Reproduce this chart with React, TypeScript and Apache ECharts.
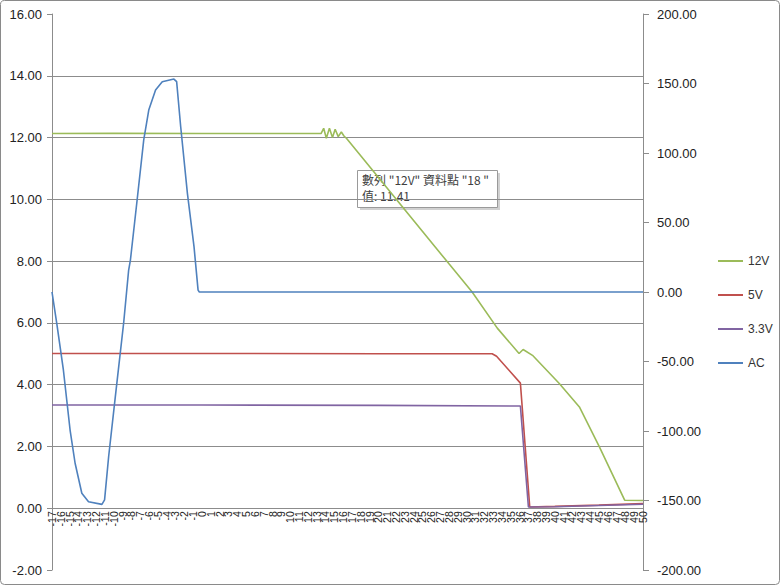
import React, { useEffect, useRef } from "react";
import * as echarts from "echarts";

const seriesNames = ["12V", "5V", "3.3V", "AC"];
const xTicksMin = -17;
const xTicksMax = 50;
// labels next to the first / last tick, drawn on a companion axis so that
// ECharts' min/max overlap check does not drop them
const xEdgeNeighbourLabels = [-16, 49];
const leftTicks = { min: -2, max: 16, interval: 2 };
const rightTicks = { min: -200, max: 200, interval: 50 };

const v12: [number, number][] = [
  [-17, 12.13], [-10, 12.14], [0, 12.13], [10, 12.13], [13.5, 12.13],
  [13.8, 12.3], [14.1, 11.98], [14.45, 12.3], [14.8, 12.0], [15.1, 12.27],
  [15.45, 12.03], [15.8, 12.18], [16.1, 12.05], [16.4, 11.97],
  [18, 11.41], [27.98, 7.92], [30.63, 7.0], [33.48, 5.83], [35.95, 5.01],
  [36.41, 5.14], [37.47, 4.95], [40.51, 4.04], [42.79, 3.28], [45.07, 1.98],
  [47.92, 0.26], [50, 0.25],
];
const v5: [number, number][] = [
  [-17, 5.01], [0, 5.01], [20, 5.0], [32.9, 5.0], [33.4, 4.92], [36.1, 4.05],
  [37.16, 0.04], [40, 0.06], [45, 0.1], [50, 0.15],
];
const v33: [number, number][] = [
  [-17, 3.34], [0, 3.34], [20, 3.33], [36.1, 3.31], [37.01, 0.04],
  [40, 0.05], [45, 0.09], [50, 0.13],
];
const vac: [number, number][] = [
  [-17, 0], [-16.46, -22.5], [-15.71, -56.1], [-14.95, -99.3], [-14.38, -123.2],
  [-13.62, -144.8], [-12.86, -150.9], [-11.34, -152.8], [-11.04, -149.6],
  [-10.58, -118.5], [-9.82, -75.3], [-8.88, -22.5], [-8.31, 15.8], [-8.11, 23],
  [-7.35, 66.2], [-6.6, 109.4], [-6.03, 130.9], [-5.26, 145.3], [-4.5, 151.3],
  [-3.18, 153.2], [-2.87, 151.3], [-2.41, 118.9], [-1.65, 71], [-0.9, 32.6],
  [-0.44, 1.4], [-0.3, 0], [20, 0], [50, 0],
];

const tooltipLine1 = '數列 "12V" 資料點 "18 "';
const tooltipLine2 = "值: 11.41";

const colors = ["#9bbb59", "#c0504d", "#8064a2", "#4f81bd"];
const FONT = "Liberation Sans, Arial, sans-serif";

const GRID_TOP = 14;
const GRID_BOTTOM = 15;
const CHART_H = 585;

export default function App() {
  const ref = useRef<HTMLDivElement>(null);
  useEffect(() => {
    document.body.style.margin = "0";
    const chart = echarts.init(ref.current!, null, { renderer: "svg" });
    const gridColor = "#8c8c8c";
    const splitColors: string[] = [];
    const nLines = (leftTicks.max - leftTicks.min) / leftTicks.interval + 1;
    for (let i = 0; i < nLines; i++) {
      splitColors.push(i === 0 || i === nLines - 1 ? "rgba(0,0,0,0)" : gridColor);
    }
    // place the category axis where the left axis crosses zero
    const gridH = CHART_H - GRID_TOP - GRID_BOTTOM;
    const zeroOffset = (gridH * (0 - leftTicks.min)) / (leftTicks.max - leftTicks.min);
    const xLabelStyle = {
      rotate: 90,
      fontSize: 10.5,
      lineHeight: 7,
      color: "#222",
      margin: 3,
      fontFamily: FONT,
      hideOverlap: false,
    };
    const dataSets = [v12, v5, v33, vac];
    chart.setOption({
      animation: false,
      backgroundColor: "#ffffff",
      color: colors,
      textStyle: { fontFamily: FONT },
      grid: {
        left: 52,
        right: 137,
        top: GRID_TOP,
        bottom: GRID_BOTTOM,
        containLabel: false,
        outerBoundsMode: "none",
      },
      legend: {
        data: seriesNames,
        orient: "vertical",
        left: 713,
        top: 249,
        icon: "rect",
        itemWidth: 25,
        itemHeight: 2,
        itemGap: 20,
        textStyle: { fontSize: 12, color: "#333", fontFamily: FONT, lineHeight: 14 },
      },
      xAxis: [
        {
          type: "value",
          min: xTicksMin,
          max: xTicksMax,
          interval: 1,
          position: "bottom",
          offset: -zeroOffset,
          axisLine: { onZero: false, lineStyle: { color: gridColor, width: 1 } },
          axisTick: { show: false },
          splitLine: { show: false },
          axisLabel: { ...xLabelStyle, showMinLabel: true, showMaxLabel: true },
        },
        {
          type: "value",
          min: xTicksMin,
          max: xTicksMax,
          position: "bottom",
          offset: -zeroOffset,
          axisLine: { show: false, onZero: false },
          axisTick: { show: false },
          splitLine: { show: false },
          axisLabel: { ...xLabelStyle, customValues: xEdgeNeighbourLabels },
        },
      ],
      yAxis: [
        {
          type: "value",
          min: leftTicks.min,
          max: leftTicks.max,
          interval: leftTicks.interval,
          position: "left",
          axisLine: { show: true, onZero: false, lineStyle: { color: gridColor } },
          axisTick: { show: true, length: 5, lineStyle: { color: gridColor } },
          splitLine: { show: true, lineStyle: { color: splitColors, width: 1 } },
          axisLabel: {
            formatter: (v: number) => v.toFixed(2),
            fontSize: 13,
            color: "#222",
            margin: 10,
            fontFamily: FONT,
          },
        },
        {
          type: "value",
          min: rightTicks.min,
          max: rightTicks.max,
          interval: rightTicks.interval,
          position: "right",
          axisLine: { show: true, onZero: false, lineStyle: { color: gridColor } },
          axisTick: { show: true, length: 6, lineStyle: { color: gridColor } },
          splitLine: { show: false },
          axisLabel: {
            formatter: (v: number) => v.toFixed(2),
            fontSize: 13,
            color: "#222",
            margin: 14,
            fontFamily: FONT,
          },
        },
      ],
      series: seriesNames.map((name, i) => ({
        name,
        type: "line",
        xAxisIndex: 0,
        yAxisIndex: i === 3 ? 1 : 0,
        data: dataSets[i],
        symbol: "none",
        showSymbol: false,
        lineStyle: { width: 1.6, color: colors[i] },
        itemStyle: { color: colors[i] },
        z: 2 + i,
      })),
      graphic: [
        {
          type: "rect",
          shape: { x: 0.5, y: 0.5, width: 779, height: 584, r: 4 },
          style: { fill: "none", stroke: "#8a8a8a", lineWidth: 1 },
          silent: true,
          z: 100,
        },
        {
          type: "group",
          left: 357,
          top: 170,
          z: 100,
          children: [
            {
              type: "rect",
              shape: { x: 3, y: 3, width: 140, height: 37 },
              style: { fill: "rgba(0,0,0,0.18)" },
            },
            {
              type: "rect",
              shape: { x: 0.5, y: 0.5, width: 140, height: 37 },
              style: { fill: "#ffffff", stroke: "#9a9a9a", lineWidth: 1 },
            },
            {
              type: "text",
              x: 5,
              y: 3,
              style: { text: tooltipLine1, font: `12px "Noto Sans CJK TC", ${FONT}`, fill: "#404040" },
            },
            {
              type: "text",
              x: 5,
              y: 19,
              style: { text: tooltipLine2, font: `12px "Noto Sans CJK TC", ${FONT}`, fill: "#404040" },
            },
          ],
        },
      ],
    });
    return () => chart.dispose();
  }, []);
  return <div ref={ref} style={{ width: 780, height: 585 }} />;
}
